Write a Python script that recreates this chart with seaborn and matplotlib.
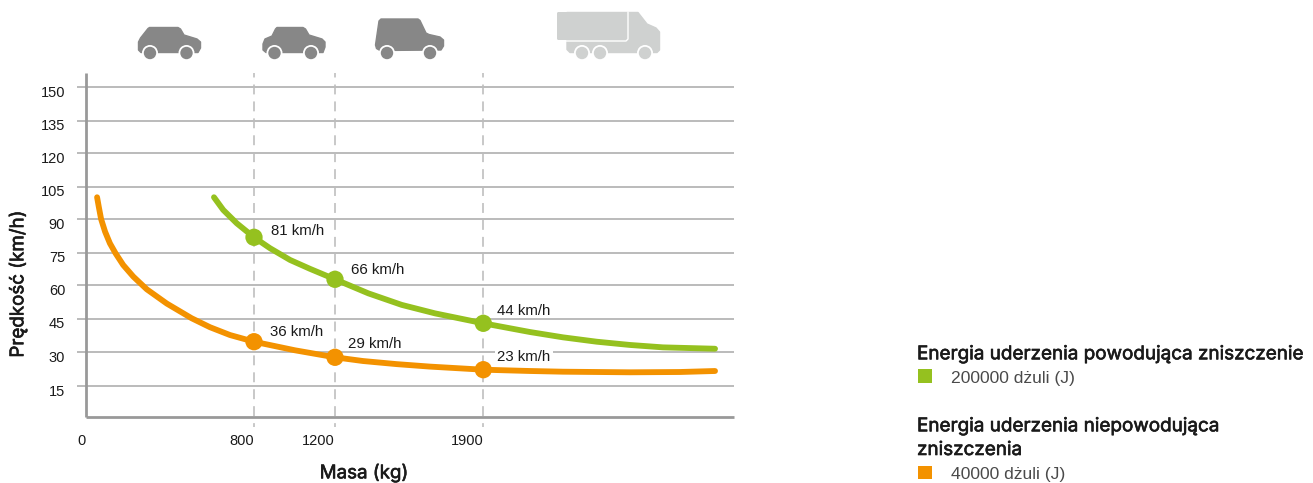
import matplotlib
matplotlib.use("Agg")
import matplotlib.pyplot as plt
import matplotlib.patheffects as pe
from matplotlib.patches import Polygon, Circle, FancyBboxPatch, Rectangle
from matplotlib.transforms import ScaledTranslation
import numpy as np
import pandas as pd
import seaborn as sns

# Curves: mass in kg, speed in km/h
green_mass = [610, 654, 718, 800, 879, 978, 1077, 1200, 1357, 1515, 1672, 1900, 2122, 2278, 2438, 2596, 2753, 3000]
green_speed = [100.1, 94.2, 87.9, 81, 76.7, 72.5, 69.5, 66, 56.4, 51.2, 47.4, 44, 40.2, 37.9, 36.0, 34.1, 32.7, 31.9]
orange_mass = [55, 63, 74, 93, 116, 143, 179, 227, 291, 386, 504, 591, 686, 800, 1002, 1200, 1332, 1491, 1648, 1900,
               2122, 2278, 2596, 2834, 3000]
orange_speed = [100.1, 95.7, 90, 83.75, 78.6, 74.7, 70.8, 66.9, 58.2, 51.8, 45.2, 42.3, 38.9, 36, 31.0, 29, 27.2, 25.7,
                24.5, 23, 22.35, 22.0, 21.7, 21.85, 22.35]

# Labelled vehicle classes
mass_ticks = [0, 800, 1200, 1900]
marked_mass = [800, 1200, 1900]
green_marked = [81, 66, 44]
orange_marked = [36, 29, 23]
speed_ticks = [15, 30, 45, 60, 75, 90, 105, 120, 135, 150]

GREEN = "#95C11F"
ORANGE = "#F39200"
LEGEND_ENTRIES = ["200000 dżuli (J)", "40000 dżuli (J)"]

sns.set_theme(style="white")
plt.rcParams["font.family"] = ["Liberation Sans", "DejaVu Sans"]
HEAD_FONT = ["Inter", "Liberation Sans"]
# A hairline stroke gives the regular cut of the heading font a medium weight
HEAVY = [pe.withStroke(linewidth=0.45, foreground="#1a1a1a")]

W, H = 1313, 483
fig = plt.figure(figsize=(W / 100, H / 100), dpi=100, facecolor="white")
ax = fig.add_axes([85.5 / W, 1 - 417 / H, 648.5 / W, 344 / H])

green_df = pd.DataFrame({"mass": green_mass, "speed": green_speed})
orange_df = pd.DataFrame({"mass": orange_mass, "speed": orange_speed})
for df, colour in ((green_df, GREEN), (orange_df, ORANGE)):
    sns.lineplot(data=df, x="mass", y="speed", color=colour, ax=ax, linewidth=4.2,
                 errorbar=None, sort=False, solid_capstyle="round", solid_joinstyle="round", zorder=4)

marked = pd.DataFrame({"mass": marked_mass * 2, "speed": green_marked + orange_marked,
                       "series": ["g"] * 3 + ["o"] * 3})
sns.scatterplot(data=marked, x="mass", y="speed", hue="series", palette={"g": GREEN, "o": ORANGE},
                s=155, linewidth=0, legend=False, ax=ax, zorder=5)

# The printed axes are not evenly graduated, so both scales run through anchors
x_a = np.array([0, 800, 1200, 1900, 3090], float)
x_p = np.array([85.5, 254, 335, 483.3, 734], float)
y_a = np.array([1, 15, 23, 29, 30, 36, 44, 45, 60, 66, 75, 81, 90, 105, 120, 135, 150, 156.3], float)
y_p = -np.array([417, 385.7, 369.7, 357.3, 352, 341.7, 323.3, 318.7, 285.3, 279.3, 252.5, 237.3,
                 219, 186.7, 153, 120.7, 87, 73], float)
ax.set_xscale("function", functions=(lambda v: np.interp(v, x_a, x_p), lambda v: np.interp(v, x_p, x_a)))
ax.set_yscale("function", functions=(lambda v: np.interp(v, y_a, y_p), lambda v: np.interp(v, y_p, y_a)))
ax.set_xlim(0, 3090)
ax.set_ylim(1, 156.3)

ax.set_xticks(mass_ticks)
ax.set_xticklabels([str(v) for v in mass_ticks], ha="right")
ax.set_yticks(speed_ticks)
ax.set_yticklabels([str(v) for v in speed_ticks])
ax.minorticks_off()
ax.tick_params(axis="x", length=0, pad=12.5, labelsize=10.5, labelcolor="#1a1a1a")
ax.tick_params(axis="y", length=6.2, width=1.15, color="#ababab", pad=8.4, labelsize=10.5, labelcolor="#1a1a1a", left=True)
ax.grid(axis="y", color="#ababab", linewidth=1.15, zorder=0)
ax.grid(axis="x", visible=False)
ax.set_axisbelow(True)

# Speed numbers sit a little below their grid lines
down = ScaledTranslation(0, -4.3 / 100, fig.dpi_scale_trans)
for lab in ax.get_yticklabels():
    lab.set_transform(lab.get_transform() + down)

for side in ("top", "right"):
    ax.spines[side].set_visible(False)
for side in ("left", "bottom"):
    ax.spines[side].set_color("#999999")
    ax.spines[side].set_linewidth(2.0)
    ax.spines[side].set_capstyle("butt")

for m in marked_mass:
    ax.axvline(m, ymin=1, ymax=-0.029, color="#bcbcbc", linewidth=1.15,
               linestyle=(3.4, (6.2, 4.4)), clip_on=False, zorder=1)

ax.set_xlabel("Masa (kg)", fontsize=13.5, family=HEAD_FONT, color="#1a1a1a", path_effects=HEAVY)
ax.xaxis.set_label_coords(0.4295, -0.163)
ax.xaxis.label.set_va("center")
ax.set_ylabel("Prędkość (km/h)", fontsize=13.5, family=HEAD_FONT, color="#1a1a1a", path_effects=HEAVY)
ax.yaxis.set_label_coords(-0.104, 0.387)
ax.yaxis.label.set_va("center")

# Value labels beside each marker, offsets in pixels; only the lowest one
# needs a white backing, where it sits on a grid line
label_offsets = [(17, 6), (16, 9), (14, 12), (15.5, 9.7), (13.5, 13), (14, 13)]
for i, ((m, v), off) in enumerate(zip(zip(marked_mass * 2, green_marked + orange_marked), label_offsets)):
    backing = dict(facecolor="white", edgecolor="none", pad=1.4) if i == 5 else None
    ax.annotate(f"{v} km/h", (m, v), xytext=off, textcoords="offset pixels", ha="left", va="center",
                fontsize=10.8, color="#1a1a1a", zorder=3, bbox=backing)

# Page-level overlay in pixel units for the vehicle icons and the key
ov = fig.add_axes([0, 0, 1, 1], zorder=10)
ov.set_xlim(0, W)
ov.set_ylim(H, 0)
ov.axis("off")
ov.patch.set_alpha(0)


def wheels(xs, colour, y=53):
    for x in xs:
        ov.add_patch(Circle((x, y), 8.0, facecolor="white", edgecolor="none", zorder=3))
        ov.add_patch(Circle((x, y), 6.2, facecolor=colour, edgecolor="none", zorder=4))


def body(points, colour):
    ov.add_patch(Polygon(points, closed=True, facecolor=colour, edgecolor=colour, linewidth=1,
                         joinstyle="round", zorder=2))


DARK = "#878787"
LIGHT = "#CFD1D0"
body([(138.5, 42), (140.5, 38), (148, 28.5), (149.5, 27.5), (178, 27.5), (180.5, 29), (184, 35), (197, 39),
      (200.5, 42), (200.5, 48), (198, 52.5), (141, 52.5), (138.5, 50)], DARK)
wheels([150, 186.5], DARK)
body([(263, 44), (265, 39), (272, 36), (275.5, 29), (277, 27.5), (303, 27.5), (305.5, 29), (309, 35), (322, 39),
      (325, 42), (325, 47), (323, 52.5), (266, 52.5), (263, 50)], DARK)
wheels([274.5, 311], DARK)
body([(375.5, 45), (379, 21), (381, 19), (418, 19), (420, 20.5), (426, 33), (429, 34.5), (440, 37), (443.5, 40),
      (443.5, 46), (441, 50), (380, 50.5), (376.5, 48.5)], DARK)
wheels([387, 430], DARK)
body([(567, 36), (567, 12.5), (638, 12.5), (647, 24), (656, 28), (659.5, 32), (659.5, 50), (657, 52.5), (570, 52.5),
      (567, 49.5)], LIGHT)
ov.add_patch(FancyBboxPatch((557, 12), 70.5, 28, boxstyle="round,pad=0,rounding_size=1.5", facecolor=LIGHT,
                            edgecolor="none", linewidth=0, zorder=2.4))
ov.plot([628, 628, 626, 566], [12, 39, 41, 41], color="white", lw=1.0, zorder=2.5, solid_joinstyle="round")
wheels([582, 600, 645], LIGHT)

HEAD = dict(fontsize=13.6, family=HEAD_FONT, color="#1a1a1a", va="baseline", ha="left", path_effects=HEAVY)
ITEM = dict(fontsize=12.6, color="#4a4a4a", va="baseline", ha="left")
ov.text(917, 359.3, "Energia uderzenia powodująca zniszczenie", **HEAD)
ov.add_patch(Rectangle((918, 369), 14, 13.5, facecolor=GREEN, edgecolor="none"))
ov.text(951, 382.5, LEGEND_ENTRIES[0], **ITEM)
ov.text(917, 431.3, "Energia uderzenia niepowodująca", **HEAD)
ov.text(917, 455, "zniszczenia", **HEAD)
ov.add_patch(Rectangle((918, 465.5), 14, 13.5, facecolor=ORANGE, edgecolor="none"))
ov.text(951, 478.7, LEGEND_ENTRIES[1], **ITEM)

fig.savefig("out.png", dpi=100, facecolor="white")
